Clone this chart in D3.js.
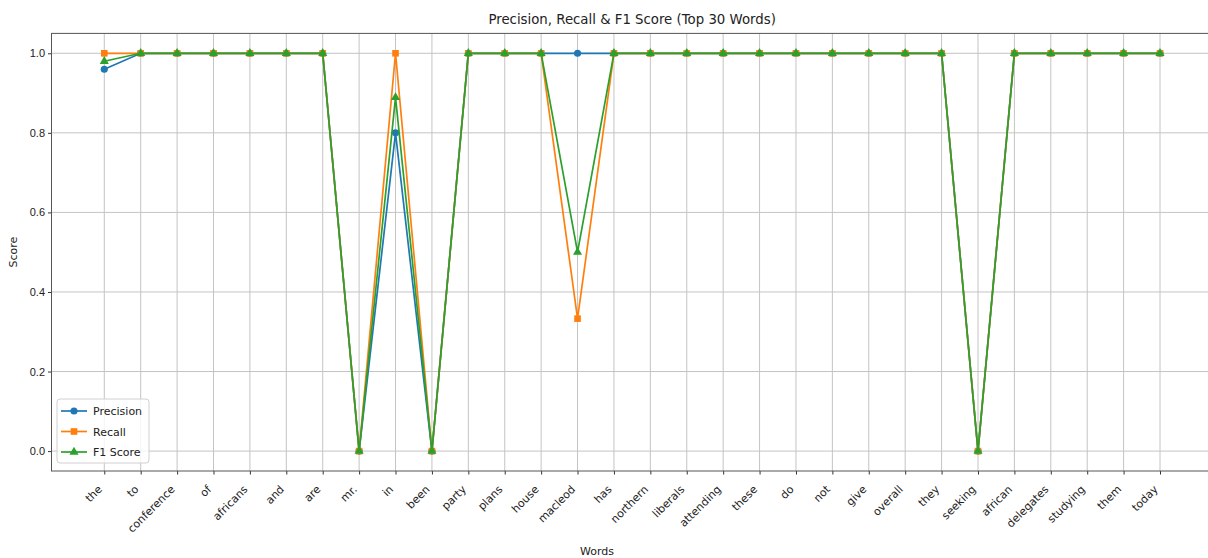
<!DOCTYPE html>
<html><head><meta charset="utf-8">
<script src="https://cdn.jsdelivr.net/npm/d3@7"></script>
<style>body{margin:0;background:#fff}svg{display:block;font-family:"DejaVu Sans",sans-serif}</style>
</head><body><svg id="c" width="1208" height="558"></svg>
<script>
const words = ["the","to","conference","of","africans","and","are","mr.","in","been","party","plans","house","macleod","has","northern","liberals","attending","these","do","not","give","overall","they","seeking","african","delegates","studying","them","today"];
const precision = [0.96,1,1,1,1,1,1,0,0.8,0,1,1,1,1,1,1,1,1,1,1,1,1,1,1,0,1,1,1,1,1];
const recall    = [1,1,1,1,1,1,1,0,1,0,1,1,1,0.333,1,1,1,1,1,1,1,1,1,1,0,1,1,1,1,1];
const f1score   = [0.98,1,1,1,1,1,1,0,0.889,0,1,1,1,0.5,1,1,1,1,1,1,1,1,1,1,0,1,1,1,1,1];
const yTicks = [0.0,0.2,0.4,0.6,0.8,1.0];
const series = [
  {name:"Precision", values:precision, color:"#1f77b4", marker:"circle"},
  {name:"Recall", values:recall, color:"#ff7f0e", marker:"square"},
  {name:"F1 Score", values:f1score, color:"#2ca02c", marker:"triangle"}
];

const svg = d3.select("#c");
const L=51.5, R=1212.8, T=33.4, B=471;
const x = d3.scaleLinear().domain([-1.45, 30.45]).range([L, R]);
const y = d3.scaleLinear().domain([-0.05, 1.05]).range([B, T]);

const g = svg.append("g");
g.selectAll(".vg").data(words).join("line")
  .attr("x1",(d,i)=>x(i)).attr("x2",(d,i)=>x(i)).attr("y1",T).attr("y2",B)
  .attr("stroke","#c4c4c4").attr("stroke-width",1);
g.selectAll(".hg").data(yTicks).join("line")
  .attr("x1",L).attr("x2",R).attr("y1",d=>y(d)).attr("y2",d=>y(d))
  .attr("stroke","#c4c4c4").attr("stroke-width",1);

const xAxis = d3.axisBottom(x).tickValues(d3.range(words.length)).tickFormat("").tickSize(3.5);
const ax = svg.append("g").attr("transform",`translate(0,${B})`).call(xAxis);
ax.select(".domain").remove();
ax.selectAll(".tick line").attr("stroke","#333");
ax.selectAll(".tick text").remove();
svg.append("g").selectAll("text").data(words).join("text")
  .attr("transform",(d,i)=>`translate(${x(i)-1.5},${B+19}) rotate(-45)`)
  .attr("text-anchor","end").attr("font-size",11).attr("fill","#222").text(d=>d);

const yAxis = d3.axisLeft(y).tickValues(yTicks).tickFormat(d3.format(".1f")).tickSize(3.5).tickPadding(3);
const ay = svg.append("g").attr("transform",`translate(${L},0)`).call(yAxis);
ay.select(".domain").remove();
ay.selectAll(".tick line").attr("stroke","#333");
ay.selectAll(".tick text").attr("font-size",11).attr("fill","#222");

svg.append("rect").attr("x",L).attr("y",T).attr("width",R-L).attr("height",B-T)
  .attr("fill","none").attr("stroke","#555").attr("stroke-width",1);

const line = d3.line().x((d,i)=>x(i)).y(d=>y(d));
const sym = {circle:d3.symbolCircle, square:d3.symbolSquare, triangle:d3.symbolTriangle};
const size = {circle:40, square:44, triangle:36};
function drawMarker(sel, s, cx, cy){
  sel.append("path").attr("d", d3.symbol().type(sym[s.marker]).size(size[s.marker])())
    .attr("transform",`translate(${cx},${cy})`).attr("fill",s.color);
}
series.forEach(s=>{
  const sg = svg.append("g");
  sg.append("path").attr("d", line(s.values)).attr("fill","none").attr("stroke",s.color).attr("stroke-width",1.7);
  s.values.forEach((v,i)=>drawMarker(sg, s, x(i), y(v)));
});

svg.append("text").attr("x",(L+R)/2).attr("y",24).attr("text-anchor","middle")
  .attr("font-size",13.3).attr("fill","#222").text("Precision, Recall & F1 Score (Top 30 Words)");
svg.append("text").attr("x",597).attr("y",555).attr("text-anchor","middle")
  .attr("font-size",11).attr("fill","#222").text("Words");
svg.append("text").attr("transform",`translate(17,${(T+B)/2}) rotate(-90)`).attr("text-anchor","middle")
  .attr("font-size",11).attr("fill","#222").text("Score");

const lg = svg.append("g");
lg.append("rect").attr("x",57).attr("y",399).attr("width",92).attr("height",64).attr("rx",3)
  .attr("fill","#fff").attr("fill-opacity",0.8).attr("stroke","#d0d0d0");
series.forEach((s,k)=>{
  const yy = 411 + k*20.5;
  lg.append("line").attr("x1",61).attr("x2",87).attr("y1",yy).attr("y2",yy).attr("stroke",s.color).attr("stroke-width",1.7);
  drawMarker(lg, s, 74, yy);
  lg.append("text").attr("x",93).attr("y",yy+4).attr("font-size",11).attr("fill","#222").text(s.name);
});
</script></body></html>
